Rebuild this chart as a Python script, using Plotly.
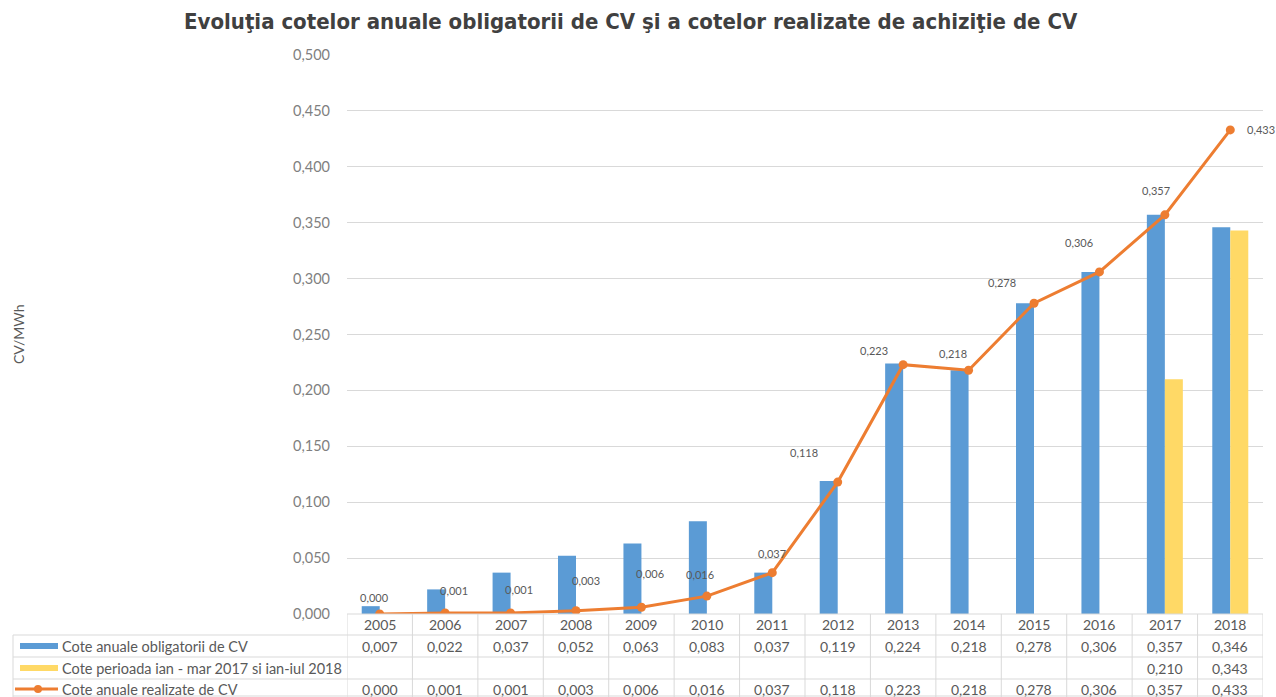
import plotly.graph_objects as go

# ---------------- data ----------------
years = ["2005", "2006", "2007", "2008", "2009", "2010", "2011", "2012",
         "2013", "2014", "2015", "2016", "2017", "2018"]
cote_obligatorii = [0.007, 0.022, 0.037, 0.052, 0.063, 0.083, 0.037, 0.119,
                    0.224, 0.218, 0.278, 0.306, 0.357, 0.346]
cote_perioada = [None, None, None, None, None, None, None, None,
                 None, None, None, None, 0.210, 0.343]
cote_realizate = [0.000, 0.001, 0.001, 0.003, 0.006, 0.016, 0.037, 0.118,
                  0.223, 0.218, 0.278, 0.306, 0.357, 0.433]
series_names = ["Cote anuale obligatorii de CV",
                "Cote perioada ian - mar 2017 si ian-iul 2018",
                "Cote anuale realizate de CV"]
title_text = "Evoluţia cotelor anuale obligatorii de CV şi a cotelor realizate de achiziţie de CV"
y_title = "CV/MWh"

# ---------------- style ----------------
W, H = 1276, 697
L, R, T, B = 347, 13, 55, 83
PW, PH = W - L - R, H - T - B
BLUE, GOLD, ORANGE = "#5B9BD5", "#FFD966", "#ED7D31"
GRID = "#D9D9D9"
TXT = "#595959"
FONT = "Lato, 'Open Sans', sans-serif"

# pixel offsets for line data labels (dx, dy up)
label_offsets = [(-5, 17), (9, 22), (8, 23), (10, 30), (9, 34), (-7, 22), (0, 19),
                 (-34, 30), (-29, 14), (-16, 17), (-32, 21), (-20, 29), (-9, 24), (31, 0)]


def py(p):  # pixel y -> paper y
    return 1 - (p - T) / PH


def px(p):  # pixel x -> paper x
    return (p - L) / PW


def fmt(v):
    return "" if v is None else f"{v:.3f}".replace(".", ",")


fig = go.Figure()
fig.add_trace(go.Bar(x=years, y=cote_obligatorii, name=series_names[0],
                     marker=dict(color=BLUE, line=dict(width=0))))
fig.add_trace(go.Bar(x=years, y=cote_perioada, name=series_names[1],
                     marker=dict(color=GOLD, line=dict(width=0))))
fig.add_trace(go.Scatter(x=years, y=cote_realizate, name=series_names[2],
                         mode="lines+markers",
                         line=dict(color=ORANGE, width=3),
                         marker=dict(color=ORANGE, size=9)))

annotations = []
# line data labels (x given as category index)
for i, v in enumerate(cote_realizate):
    dx, dy = label_offsets[i]
    annotations.append(dict(x=i, y=v, xref="x", yref="y", text=fmt(v),
                            showarrow=False, xshift=dx, yshift=dy,
                            xanchor="center", yanchor="middle",
                            font=dict(family=FONT, size=11, color=TXT)))

# table
shapes = []
row_bot = 700
line_style = dict(color=GRID, width=1)
shapes.append(dict(type="line", xref="paper", yref="paper", x0=0, x1=1,
                   y0=py(614), y1=py(614), line=line_style, layer="above"))
for yy in [635, 657, 679, 696]:
    shapes.append(dict(type="line", xref="paper", yref="paper", x0=px(13), x1=1,
                       y0=py(yy), y1=py(yy), line=line_style, layer="above"))
for i in range(len(years) + 1):
    shapes.append(dict(type="line", xref="x", yref="paper", x0=i - 0.5, x1=i - 0.5,
                       y0=py(614), y1=py(row_bot), line=line_style))
shapes.append(dict(type="line", xref="paper", yref="paper", x0=px(13), x1=px(13),
                   y0=py(635), y1=py(row_bot), line=line_style))

row_centers = [624.5, 646, 668, 689]
rows = [years, [fmt(v) for v in cote_obligatorii],
        [fmt(v) for v in cote_perioada], [fmt(v) for v in cote_realizate]]
for yc, vals in zip(row_centers, rows):
    for i, t in enumerate(vals):
        if t:
            annotations.append(dict(x=i, y=py(yc), xref="x", yref="paper", text=t,
                                    showarrow=False, xanchor="center", yanchor="middle",
                                    font=dict(family=FONT, size=14, color=TXT)))
# row headers with legend keys
for name, yc in zip(series_names, row_centers[1:]):
    annotations.append(dict(x=px(60), y=py(yc), xref="paper", yref="paper", text=name,
                            showarrow=False, xanchor="left", yanchor="middle",
                            font=dict(family=FONT, size=14.5, color=TXT)))
shapes.append(dict(type="rect", xref="paper", yref="paper", x0=px(20), x1=px(58),
                   y0=py(643), y1=py(649), fillcolor=BLUE, line=dict(width=0)))
shapes.append(dict(type="rect", xref="paper", yref="paper", x0=px(20), x1=px(58),
                   y0=py(665), y1=py(671), fillcolor=GOLD, line=dict(width=0)))
shapes.append(dict(type="line", xref="paper", yref="paper", x0=px(15), x1=px(58),
                   y0=py(689), y1=py(689), line=dict(color=ORANGE, width=3)))
shapes.append(dict(type="circle", xref="paper", yref="paper", x0=px(34), x1=px(42),
                   y0=py(685), y1=py(693), fillcolor=ORANGE, line=dict(width=0)))

# y axis title
annotations.append(dict(x=px(18), y=py(334), xref="paper", yref="paper", text=y_title,
                        showarrow=False, textangle=-90, xanchor="center", yanchor="middle",
                        font=dict(family=FONT, size=14, color=TXT)))
# title
annotations.append(dict(x=px(631), y=py(21), xref="paper", yref="paper",
                        text="<b>" + title_text + "</b>", showarrow=False,
                        xanchor="center", yanchor="middle",
                        font=dict(family="'Liberation Sans Narrow', 'DejaVu Sans Condensed', sans-serif",
                                  size=22, color="#404040")))

fig.update_layout(
    width=W, height=H, autosize=False,
    margin=dict(l=L, r=R, t=T, b=B, pad=0),
    paper_bgcolor="white", plot_bgcolor="white",
    barmode="group", bargap=0.45, bargroupgap=0,
    showlegend=False, hovermode=False,
    separators=",.",
    shapes=shapes, annotations=annotations,
    xaxis=dict(type="category", showticklabels=False, showgrid=False,
               zeroline=False, showline=False, ticks="",
               range=[-0.5, len(years) - 0.5], fixedrange=True),
    yaxis=dict(range=[0, 0.5], dtick=0.05, tickformat=".3f",
               showgrid=True, gridcolor=GRID, gridwidth=1,
               zeroline=False, showline=False, ticks="", ticklen=0,
               tickfont=dict(family=FONT, size=14.5, color="#7F7F7F"),
               ticklabelstandoff=16, fixedrange=True),
)

fig.write_html("out.html", config={"displayModeBar": False},
               post_script="document.body.style.margin='0';document.body.style.overflow='hidden';")
